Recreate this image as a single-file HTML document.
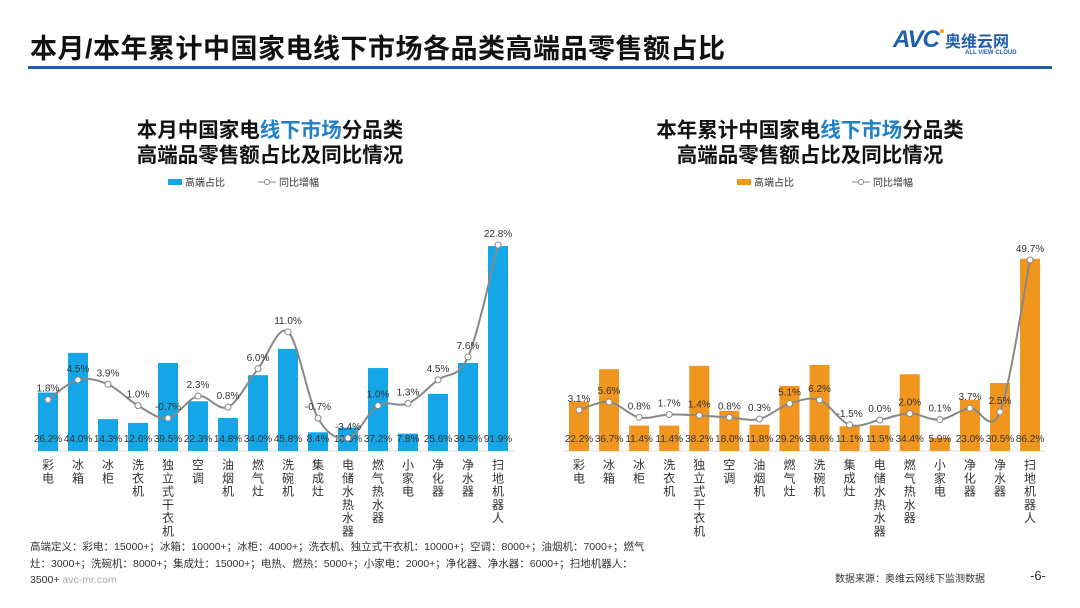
<!DOCTYPE html>
<html><head><meta charset="utf-8"><style>
body{margin:0;width:1080px;height:608px;background:#fff;overflow:hidden;font-family:"Liberation Sans","Noto Sans CJK SC",sans-serif;position:relative}
.abs{position:absolute}
</style></head><body>
<div class="abs" style="left:30px;top:27px;font-size:27px;font-weight:bold;color:#111;letter-spacing:0.5px">本月/本年累计中国家电线下市场各品类高端品零售额占比</div>
<div class="abs" style="left:893px;top:26px;width:160px;height:36px">
<span style="font-size:24px;font-weight:bold;font-style:italic;color:#1f5fa8;letter-spacing:-1px">AVC</span><span style="color:#f0a020;font-size:10px;vertical-align:top">●</span><span style="font-size:16px;font-weight:bold;color:#1f5fa8">奥维云网</span>
<div style="position:absolute;left:72px;top:24px;font-size:6px;color:#1f5fa8;font-weight:bold">ALL VIEW CLOUD</div></div>
<div class="abs" style="left:28px;top:66px;width:1024px;height:3px;background:#1f5fa0"></div>
<svg id="svg" class="abs" style="left:0;top:0" width="1080" height="608"></svg>
<div class="abs" style="left:30px;top:539px;width:630px;font-size:10.5px;line-height:16.5px;color:#333">高端定义：彩电：15000+；冰箱：10000+；冰柜：4000+；洗衣机、独立式干衣机：10000+；空调：8000+；油烟机：7000+；燃气灶：3000+；洗碗机：8000+；集成灶：15000+；电热、燃热：5000+；小家电：2000+；净化器、净水器：6000+；扫地机器人：3500+ <span style="color:#aaa">avc-mr.com</span></div>
<div class="abs" style="left:835px;top:570px;font-size:10px;color:#333">数据来源：奥维云网线下监测数据</div>
<div class="abs" style="left:1030px;top:568px;font-size:13px;color:#333">-6-</div>
<script>
const categories=["彩电","冰箱","冰柜","洗衣机","独立式干衣机","空调","油烟机","燃气灶","洗碗机","集成灶","电储水热水器","燃气热水器","小家电","净化器","净水器","扫地机器人"];
const monthShare=[26.2,44.0,14.3,12.6,39.5,22.3,14.8,34.0,45.8,8.4,10.5,37.2,7.8,25.6,39.5,91.9];
const monthYoy=[1.8,4.5,3.9,1.0,-0.7,2.3,0.8,6.0,11.0,-0.7,-3.4,1.0,1.3,4.5,7.6,22.8];
const yearShare=[22.2,36.7,11.4,11.4,38.2,18.0,11.8,29.2,38.6,11.1,11.5,34.4,5.9,23.0,30.5,86.2];
const yearYoy=[3.1,5.6,0.8,1.7,1.4,0.8,0.3,5.1,6.2,-1.5,0.0,2.0,0.1,3.7,2.5,49.7];
const NS="http://www.w3.org/2000/svg",svg=document.getElementById('svg');
function el(t,a,p){const e=document.createElementNS(NS,t);for(const k in a)e.setAttribute(k,a[k]);(p||svg).appendChild(e);return e;}
function txt(x,y,s,a,p){const e=el('text',Object.assign({x:x,y:y,'font-size':10,fill:'#333','text-anchor':'middle'},a),p);e.textContent=s;return e;}
function chart(cfg){
 const g=el('g',{});
 
 
 const xs=i=>cfg.x0+i*cfg.step, ys=v=>cfg.base-v*2.23, yl=v=>cfg.zero-v*cfg.ls;
 const t1=txt(cfg.cx,137,'',{'font-size':20.5,'font-weight':'bold',fill:'#111'},g);
 t1.innerHTML=cfg.t1a+'<tspan fill="#1f7fc8">线下市场</tspan>分品类';
 
 const t2=txt(cfg.cx,162,'高端品零售额占比及同比情况',{'font-size':20.5,'font-weight':'bold',fill:'#111'},g);
 
 const lg=el('g',{},g);
 el('rect',{x:cfg.lx,y:179,width:14,height:6,fill:cfg.color},lg);
 txt(cfg.lx+17,186,'高端占比',{'text-anchor':'start','font-size':10},lg);
 el('line',{x1:cfg.lx+cfg.lg2,y1:182,x2:cfg.lx+cfg.lg2+18,y2:182,stroke:'#888'},lg);
 el('circle',{cx:cfg.lx+cfg.lg2+9,cy:182,r:2.5,fill:'#fff',stroke:'#888'},lg);
 txt(cfg.lx+cfg.lg2+21,186,'同比增幅',{'text-anchor':'start','font-size':10},lg);
 el('line',{x1:cfg.x0-16,y1:cfg.base,x2:xs(15)+16,y2:cfg.base,stroke:'#ddd'},g);
 cfg.share.forEach((v,i)=>{
  const r=el('rect',{x:xs(i)-10,y:ys(v),width:20,height:cfg.base-ys(v),fill:cfg.color},g);
  
  txt(xs(i),442,v.toFixed(1)+'%',{},g);
  const c=el('text',{x:xs(i),y:cfg.base+18,'font-size':12,fill:'#333','text-anchor':'middle'},g);
  
  [...categories[i]].forEach((ch,k)=>{const s=el('tspan',{x:xs(i),dy:k?13.3:0},c);s.textContent=ch;});
 });
 const P=cfg.yoy.map((v,i)=>[xs(i),yl(v)]);
 let d='M'+P[0].join(',');
 for(let i=0;i<P.length-1;i++){const p0=P[i-1]||P[i],p1=P[i],p2=P[i+1],p3=P[i+2]||p2;
  d+=` C${p1[0]+(p2[0]-p0[0])/6},${p1[1]+(p2[1]-p0[1])/6} ${p2[0]-(p3[0]-p1[0])/6},${p2[1]-(p3[1]-p1[1])/6} ${p2[0]},${p2[1]}`;}
 const ln=el('path',{d:d,fill:'none',stroke:'#888','stroke-width':2},g);
 
 P.forEach((p,i)=>{const m=el('circle',{cx:p[0],cy:p[1],r:3,fill:'#fff',stroke:'#888'},g);
  
  txt(p[0],p[1]-8,cfg.yoy[i].toFixed(1)+'%',{},g);});
}
chart({name:'month-chart',x0:48,step:30,base:451,zero:413,ls:7.37,color:'#14a6e6',cx:270,t1a:'本月中国家电',lx:168,lg2:90,share:monthShare,yoy:monthYoy});
chart({name:'year-chart',x0:579,step:30.07,base:451,zero:420,ls:3.22,color:'#f0951e',cx:810,t1a:'本年累计中国家电',lx:737,lg2:115,share:yearShare,yoy:yearYoy});
</script>
</body></html>
